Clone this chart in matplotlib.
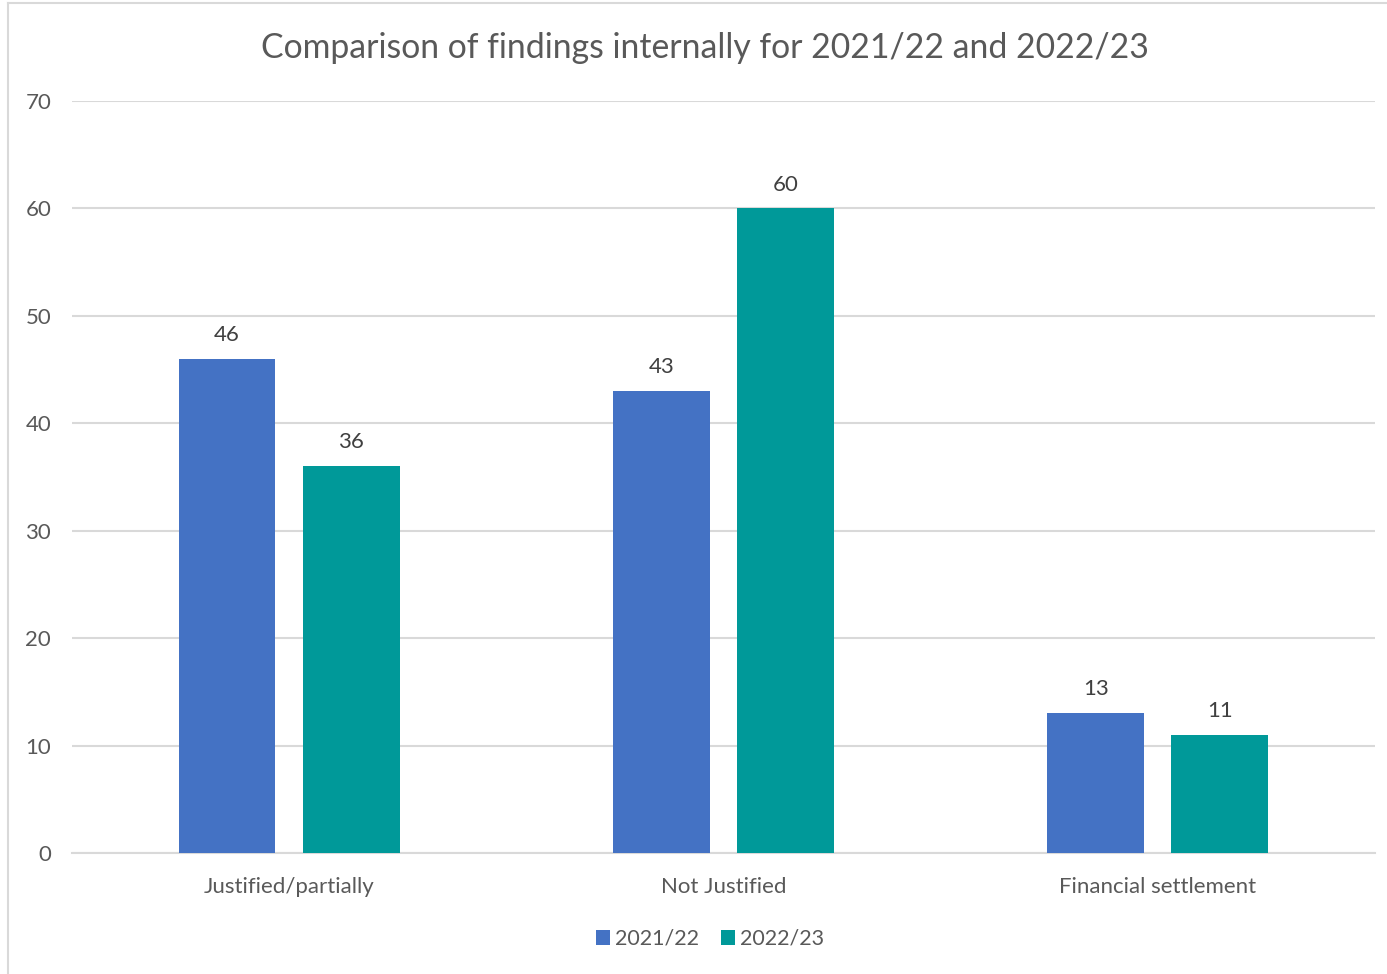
import matplotlib.pyplot as plt
import numpy as np

plt.rcParams['font.family'] = ['Lato', 'DejaVu Sans']

categories = ["Justified/partially", "Not Justified", "Financial settlement"]
series_names = ["2021/22", "2022/23"]
values_2122 = [46, 43, 13]
values_2223 = [36, 60, 11]
colours = ["#4472C4", "#009999"]
yticks = [0, 10, 20, 30, 40, 50, 60, 70]

txt = "#595959"

fig = plt.figure(figsize=(13.87, 9.74), dpi=100)
ax = fig.add_axes([0.0519, 0.1242, 0.9394, 0.7721])

x = np.arange(len(categories))
w = 0.223
off = 0.143
b1 = ax.bar(x - off, values_2122, w, color=colours[0], label=series_names[0], zorder=3)
b2 = ax.bar(x + off, values_2223, w, color=colours[1], label=series_names[1], zorder=3)

for bars in (b1, b2):
    ax.bar_label(bars, padding=10, fontsize=16, color="#404040")

ax.set_xlim(-0.5, 2.5)
ax.set_ylim(0, 70)
ax.set_yticks(yticks)
ax.set_xticks(x)
ax.set_xticklabels(categories)
ax.grid(axis='y', color="#d9d9d9", linewidth=1.5, zorder=0)
for s in ['top', 'right', 'left']:
    ax.spines[s].set_visible(False)
ax.spines['bottom'].set_color("#d9d9d9")
ax.spines['bottom'].set_linewidth(1.5)
ax.tick_params(axis='both', length=0, labelsize=16, labelcolor=txt)
ax.tick_params(axis='y', pad=15)
ax.tick_params(axis='x', pad=17)

fig.text(0.5085, 0.951, "Comparison of findings internally for 2021/22 and 2022/23",
         ha='center', va='center', fontsize=24.3, color=txt)

leg = fig.legend(loc='center', bbox_to_anchor=(0.512, 0.036), ncol=2, frameon=False,
                 fontsize=15.5, labelcolor=txt, handlelength=0.65, handleheight=0.65,
                 handletextpad=0.25, columnspacing=1.0)

# chart border (left and top visible)
fig.add_artist(plt.Line2D([8/1387, 8/1387], [0, 1 - 3/974], color="#d9d9d9", lw=1.5))
fig.add_artist(plt.Line2D([8/1387, 1], [1 - 3/974, 1 - 3/974], color="#d9d9d9", lw=1.5))

fig.savefig("out.png", dpi=100)
